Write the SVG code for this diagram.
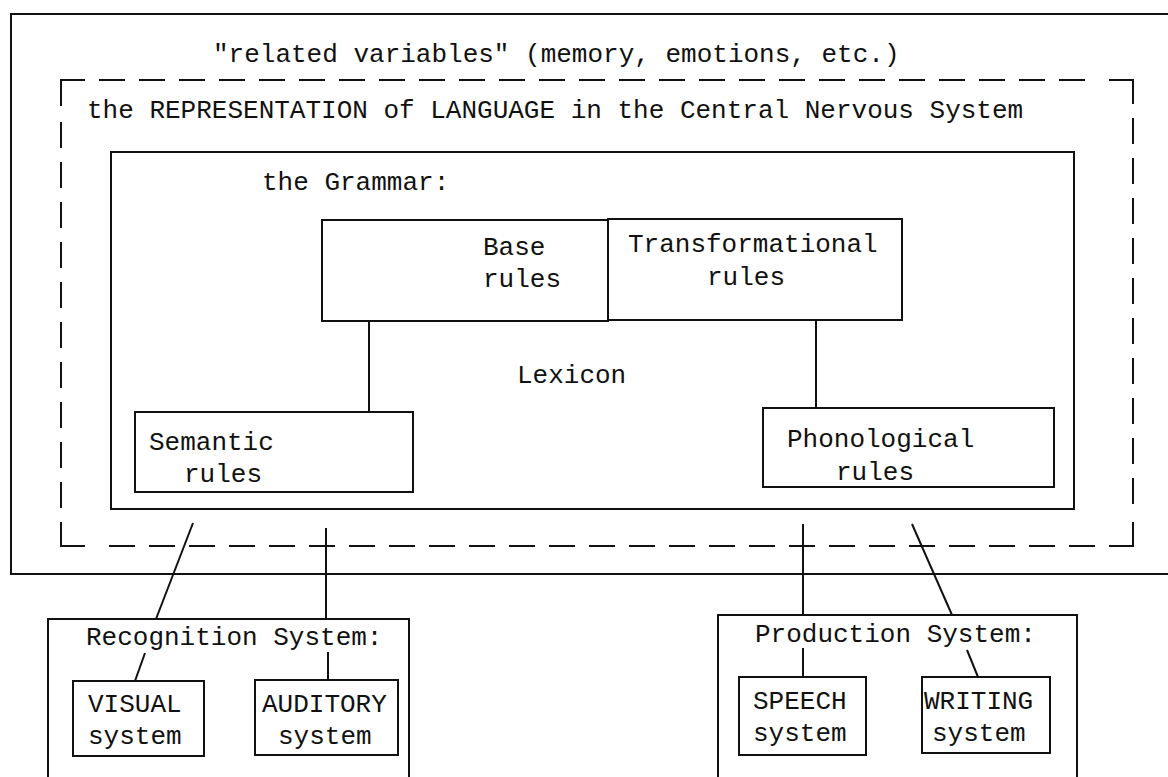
<svg xmlns="http://www.w3.org/2000/svg" width="1168" height="777" viewBox="0 0 1168 777">
<style>
  .box { fill: none; stroke: #111; stroke-width: 2; }
  .dash { fill: none; stroke: #111; stroke-width: 2; stroke-dasharray: 26 14; }
  .ln { fill: none; stroke: #111; stroke-width: 2; }
  text { font-family: "Liberation Mono", "Courier New", monospace; font-size: 26px; fill: #111; }
</style>
<rect width="1168" height="777" fill="#fff"/>

<g id="related-variables">
  <rect class="box" x="11" y="14" width="1180" height="560"/>
  <text x="213" y="62">"related variables" (memory, emotions, etc.)</text>
</g>

<g id="representation">
  <path class="ln" d="M61 106 V80 H85 M1109 80 H1133 V104 M1133 522 V546 H1109 M85 546 H61 V522"/>
  <path class="dash" d="M99 80 H1085 M1133 118 V504 M1095 546 H109 M61 508 V122"/>
  <text x="87" y="118">the REPRESENTATION of LANGUAGE in the Central Nervous System</text>
</g>

<g id="grammar">
  <rect class="box" x="111" y="152" width="963" height="357"/>
  <text x="262" y="190">the Grammar:</text>
</g>

<g id="base-rules">
  <rect class="box" x="322" y="220" width="286" height="101"/>
  <text x="483" y="255">Base</text>
  <text x="483" y="287">rules</text>
</g>

<g id="transformational-rules">
  <rect class="box" x="608" y="219" width="294" height="101"/>
  <text x="628" y="252">Transformational</text>
  <text x="707" y="285">rules</text>
</g>

<g id="lexicon">
  <text x="517" y="383">Lexicon</text>
</g>

<g id="semantic-rules">
  <rect class="box" x="135" y="412" width="278" height="80"/>
  <text x="149" y="450">Semantic</text>
  <text x="184" y="482">rules</text>
</g>

<g id="phonological-rules">
  <rect class="box" x="763" y="408" width="291" height="79"/>
  <text x="787" y="447">Phonological</text>
  <text x="836" y="480">rules</text>
</g>

<g id="recognition-system">
  <path class="box" d="M48 790 V619 H409 V790"/>
  <text x="86" y="645">Recognition System:</text>
</g>

<g id="visual-system">
  <rect class="box" x="73" y="681" width="131" height="75"/>
  <text x="88" y="712">VISUAL</text>
  <text x="88" y="744">system</text>
</g>

<g id="auditory-system">
  <rect class="box" x="255" y="680" width="143" height="75"/>
  <text x="262" y="712">AUDITORY</text>
  <text x="278" y="744">system</text>
</g>

<g id="production-system">
  <path class="box" d="M718 790 V615 H1077 V790"/>
  <text x="755" y="642">Production System:</text>
</g>

<g id="speech-system">
  <rect class="box" x="739" y="677" width="127" height="78"/>
  <text x="753" y="709">SPEECH</text>
  <text x="753" y="741">system</text>
</g>

<g id="writing-system">
  <rect class="box" x="922" y="677" width="128" height="76"/>
  <text x="924" y="709">WRITING</text>
  <text x="932" y="741">system</text>
</g>

<g id="connectors">
  <line class="ln" x1="369" y1="321" x2="369" y2="412"/>
  <line class="ln" x1="816" y1="320" x2="816" y2="408"/>
  <line class="ln" x1="193" y1="523" x2="156" y2="619"/>
  <line class="ln" x1="326" y1="528" x2="326" y2="619"/>
  <line class="ln" x1="145" y1="653" x2="135" y2="681"/>
  <line class="ln" x1="328" y1="652" x2="328" y2="680"/>
  <line class="ln" x1="803" y1="524" x2="803" y2="615"/>
  <line class="ln" x1="912" y1="524" x2="952" y2="615"/>
  <line class="ln" x1="803" y1="648" x2="803" y2="677"/>
  <line class="ln" x1="967" y1="650" x2="978" y2="677"/>
</g>
</svg>
